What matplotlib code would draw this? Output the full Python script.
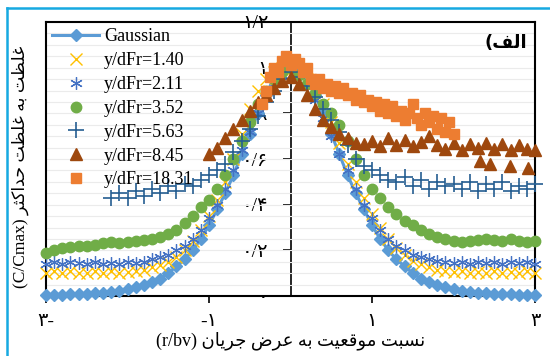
import numpy as np
import matplotlib
matplotlib.use('Agg')
import matplotlib.pyplot as plt
from matplotlib.lines import Line2D
from matplotlib.ticker import MultipleLocator

# data (x step 0.1, orange series step 0.05)
x_all = np.round(np.linspace(-3, 3, 61), 1)
x_563 = x_all[8:]      # -2.2 .. 3.0
x_845 = x_all[20:]     # -1.0 .. 3.0
x_1831 = np.round(np.linspace(-0.35, 2.0, 48), 2)

gauss = [0.004, 0.005, 0.006, 0.007, 0.008, 0.01, 0.012, 0.015, 0.019, 0.024,
         0.03, 0.038, 0.048, 0.06, 0.075, 0.10, 0.13, 0.16, 0.20, 0.25,
         0.31, 0.38, 0.45, 0.53, 0.62, 0.71, 0.80, 0.88, 0.96, 0.99,
         1.00,
         0.99, 0.96, 0.88, 0.80, 0.71, 0.62, 0.53, 0.45, 0.38, 0.31,
         0.25, 0.20, 0.16, 0.13, 0.10, 0.075, 0.06, 0.048, 0.038, 0.03,
         0.024, 0.019, 0.015, 0.012, 0.01, 0.008, 0.007, 0.006, 0.005, 0.004]

c140 = [0.10, 0.11, 0.10, 0.11, 0.10, 0.10, 0.11, 0.10, 0.11, 0.10,
        0.105, 0.11, 0.115, 0.125, 0.135, 0.15, 0.17, 0.20, 0.24, 0.29,
        0.35, 0.42, 0.50, 0.60, 0.71, 0.82, 0.90, 0.95, 0.98, 1.0,
        0.99,
        0.97, 0.95, 0.90, 0.84, 0.76, 0.67, 0.58, 0.50, 0.43, 0.36,
        0.30, 0.25, 0.21, 0.18, 0.155, 0.14, 0.125, 0.115, 0.11, 0.105,
        0.11, 0.10, 0.105, 0.10, 0.11, 0.10, 0.105, 0.10, 0.11, 0.10]

c211 = [0.14, 0.15, 0.14, 0.15, 0.145, 0.14, 0.15, 0.14, 0.145, 0.14,
        0.15, 0.145, 0.15, 0.16, 0.17, 0.18, 0.20, 0.22, 0.25, 0.29,
        0.34, 0.40, 0.47, 0.55, 0.64, 0.72, 0.80, 0.87, 0.93, 0.97,
        1.0,
        0.97, 0.92, 0.86, 0.78, 0.70, 0.62, 0.55, 0.47, 0.40, 0.34,
        0.29, 0.25, 0.22, 0.20, 0.18, 0.17, 0.16, 0.155, 0.15, 0.145,
        0.15, 0.14, 0.15, 0.145, 0.15, 0.14, 0.15, 0.145, 0.15, 0.14]

c352 = [0.19, 0.20, 0.21, 0.215, 0.22, 0.22, 0.225, 0.23, 0.235, 0.23,
        0.235, 0.24, 0.245, 0.25, 0.26, 0.27, 0.29, 0.32, 0.35, 0.39,
        0.42, 0.47, 0.53, 0.60, 0.68, 0.76, 0.84, 0.90, 0.95, 0.98,
        1.0,
        0.97, 0.93, 0.89, 0.84, 0.80, 0.75, 0.68, 0.60, 0.53, 0.47,
        0.43, 0.39, 0.36, 0.33, 0.31, 0.29, 0.27, 0.26, 0.25, 0.24,
        0.235, 0.24, 0.245, 0.25, 0.245, 0.24, 0.25, 0.24, 0.235, 0.24]

c563 = [0.43, 0.45, 0.43, 0.46, 0.44, 0.47, 0.45, 0.48, 0.46, 0.49,
        0.48, 0.51, 0.53, 0.55, 0.58, 0.63, 0.68, 0.73, 0.79, 0.85,
        0.90, 0.95,
        0.98,
        0.96, 0.92, 0.87, 0.82, 0.77, 0.72, 0.66, 0.60, 0.57, 0.55,
        0.53, 0.51, 0.50, 0.52, 0.48, 0.51, 0.47, 0.50, 0.48, 0.49,
        0.47, 0.50, 0.46, 0.49, 0.47, 0.50, 0.46, 0.48, 0.47, 0.49]

c845 = [0.62, 0.65, 0.69, 0.73, 0.77, 0.81, 0.85, 0.88, 0.91, 0.94,
        0.96,
        0.93, 0.88, 0.82, 0.77, 0.74, 0.71, 0.69, 0.67, 0.665, 0.68,
        0.655, 0.69, 0.66, 0.685, 0.655, 0.675, 0.70, 0.66, 0.645, 0.67,
        0.64, 0.665, 0.65, 0.67, 0.645, 0.665, 0.64, 0.66, 0.645, 0.64]
x_845_low = [2.33, 2.45, 2.69, 2.92]
c845_low = [0.59, 0.58, 0.57, 0.56]

c1831 = [0.84, 0.90, 0.96, 1.00, 0.98, 1.03, 1.05, 1.01, 1.04, 1.02,
         0.98, 1.00, 0.95, 0.93, 0.95, 0.91, 0.93, 0.90, 0.92, 0.89,
         0.91, 0.88, 0.89, 0.86, 0.88, 0.85, 0.86, 0.83, 0.85, 0.81,
         0.84, 0.80, 0.83, 0.79, 0.81, 0.77, 0.80, 0.84, 0.78, 0.75,
         0.80, 0.76, 0.79, 0.73, 0.78, 0.72, 0.76, 0.71]

ytick_vals = [0, 0.2, 0.4, 0.6, 0.8, 1.0, 1.2]
ytick_txt = ['۰', '۰/۲', '۰/۴', '۰/۶', '۰/۸', '۱', '۱/۲']
xtick_vals = [-3, -1, 1, 3]
xtick_txt = ['۳-', '-۱', '۱', '۳']

FONT = ['Liberation Serif', 'DejaVu Sans']

# simple persian shaping (matplotlib has no bidi / joining)
FORMS = {
    'ا': ('\ufe8d', '\ufe8e', None, None),
    'ب': ('\ufe8f', '\ufe90', '\ufe91', '\ufe92'),
    'ت': ('\ufe95', '\ufe96', '\ufe97', '\ufe98'),
    'ث': ('\ufe99', '\ufe9a', '\ufe9b', '\ufe9c'),
    'ج': ('\ufe9d', '\ufe9e', '\ufe9f', '\ufea0'),
    'ح': ('\ufea1', '\ufea2', '\ufea3', '\ufea4'),
    'د': ('\ufea9', '\ufeaa', None, None),
    'ر': ('\ufead', '\ufeae', None, None),
    'س': ('\ufeb1', '\ufeb2', '\ufeb3', '\ufeb4'),
    'ض': ('\ufebd', '\ufebe', '\ufebf', '\ufec0'),
    'ظ': ('\ufec5', '\ufec6', '\ufec7', '\ufec8'),
    'ع': ('\ufec9', '\ufeca', '\ufecb', '\ufecc'),
    'غ': ('\ufecd', '\ufece', '\ufecf', '\ufed0'),
    'ف': ('\ufed1', '\ufed2', '\ufed3', '\ufed4'),
    'ق': ('\ufed5', '\ufed6', '\ufed7', '\ufed8'),
    'ک': ('\ufb8e', '\ufb8f', '\ufb90', '\ufb91'),
    'ل': ('\ufedd', '\ufede', '\ufedf', '\ufee0'),
    'م': ('\ufee1', '\ufee2', '\ufee3', '\ufee4'),
    'ن': ('\ufee5', '\ufee6', '\ufee7', '\ufee8'),
    'ه': ('\ufee9', '\ufeea', '\ufeeb', '\ufeec'),
    'و': ('\ufeed', '\ufeee', None, None),
    'ی': ('\ufbfc', '\ufbfd', '\ufbfe', '\ufbff'),
}


def shape(text):
    out = []
    for i, ch in enumerate(text):
        if ch not in FORMS:
            out.append(ch)
            continue
        prev = text[i - 1] if i > 0 else ''
        nxt = text[i + 1] if i + 1 < len(text) else ''
        jp = prev in FORMS and FORMS[prev][2] is not None
        jn = nxt in FORMS and FORMS[ch][2] is not None
        iso, fin, ini, med = FORMS[ch]
        if jp and jn:
            out.append(med)
        elif jp:
            out.append(fin)
        elif jn:
            out.append(ini)
        else:
            out.append(iso)
    return ''.join(out)[::-1]


fig = plt.figure(figsize=(5.5, 3.56), dpi=100)
ax = fig.add_axes([46 / 550, 1 - 296 / 356, (535 - 46) / 550, (296 - 22) / 356])

ax.plot(x_all, gauss, color='#5B9BD5', lw=2.2, marker='D', ms=6, label='Gaussian', clip_on=False, zorder=3)
ax.plot(x_all, c140, ls='none', marker='x', ms=8, mew=1, color='#FFC000', label='y/dFr=1.40', clip_on=False, zorder=3)
ax.plot(x_all, c211, ls='none', marker=(6, 2, 0), ms=9, mew=0.9, color='#4472C4', label='y/dFr=2.11', clip_on=False, zorder=3)
ax.plot(x_all, c352, ls='none', marker='o', ms=7.5, color='#70AD47', label='y/dFr=3.52', clip_on=False, zorder=3)
ax.plot(x_563, c563, ls='none', marker='+', ms=11, mew=1.2, color='#255E91', label='y/dFr=5.63', clip_on=False, zorder=3)
ax.plot(np.concatenate([x_845, x_845_low]), np.concatenate([c845, c845_low]), ls='none', marker='^', ms=8.5,
        color='#9E480E', label='y/dFr=8.45', clip_on=False, zorder=3)
ax.plot(x_1831, c1831, ls='none', marker='s', ms=7.5, color='#ED7D31', label='y/dFr=18.31', clip_on=False, zorder=3)

ax.set_xlim(-3, 3)
ax.set_ylim(0, 1.2)
ax.set_xticks(xtick_vals, xtick_txt)
for t in ax.get_xticklabels():
    t.set_fontfamily(FONT)
ax.tick_params(axis='x', direction='out', length=5, width=1.2, pad=7, labelsize=14)
ax.yaxis.set_major_locator(MultipleLocator(0.05))
ax.tick_params(axis='y', length=0, labelleft=False)
ax.grid(axis='y', color='#EBEBEB', lw=0.8)
ax.set_axisbelow(True)
for s in ax.spines.values():
    s.set_linewidth(1.5)

# y axis through x = 0
sec = ax.secondary_yaxis(0.5)
sec.set_alignment('left')
sec.set_ticks(ytick_vals, labels=ytick_txt)
sec.tick_params(axis='y', direction='out', length=6, width=1.2, pad=10, labelsize=14)
sec.spines['left'].set_linewidth(1.2)
for t in sec.get_yticklabels():
    t.set_fontfamily(FONT)

ax.set_xlabel('(r/bv) ' + shape('نسبت موقعیت به عرض جریان'), fontsize=13, family=FONT, va='center')
ax.xaxis.set_label_coords(0.5, -0.165)
ax.set_ylabel('(C/Cmax) ' + shape('غلظت به غلظت حداکثر'), fontsize=12.5, family=FONT, va='center')
ax.yaxis.set_label_coords(-0.052, 0.47)

ax.text(0.94, 0.925, '(' + shape('الف'), transform=ax.transAxes, ha='center', va='center',
        fontsize=13, fontweight='bold', family='DejaVu Sans')

leg = ax.legend(loc='upper left', bbox_to_anchor=(0, 1), frameon=False, numpoints=1,
                prop={'family': FONT, 'size': 13}, borderaxespad=0.1, borderpad=0.25,
                labelspacing=0.38, handlelength=2.6, handletextpad=0.25)

# cyan frame lines of the figure box
fig.add_artist(Line2D([7 / 550, 1], [1 - 8 / 356, 1 - 8 / 356], color='#17A9E1', lw=1.8))
fig.add_artist(Line2D([7 / 550, 7 / 550], [0, 1 - 8 / 356], color='#17A9E1', lw=1.8))

fig.savefig('out.png', dpi=100)
